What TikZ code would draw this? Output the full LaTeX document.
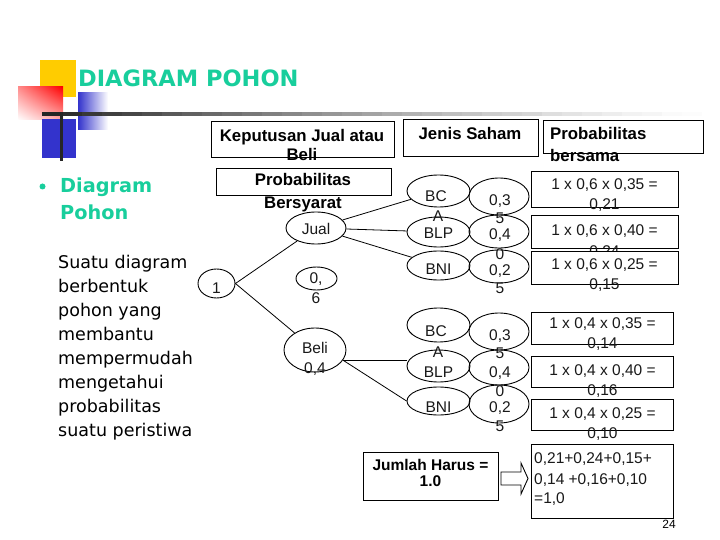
\documentclass[tikz,border=0pt]{standalone}
\usepackage{fontspec}
\setmainfont{Liberation Sans}
\newfontfamily\dejavu{DejaVu Sans}
\usetikzlibrary{shapes.geometric,shadings}
\definecolor{teal1}{RGB}{24,206,156}
\definecolor{yel1}{RGB}{255,204,0}
\definecolor{blu1}{RGB}{51,51,204}
\newcommand\seg[3]{\fill[black!#3] (#1,112.5) rectangle (#2,116);}
\begin{document}
\begin{tikzpicture}[x=1pt,y=-1pt,
  tx/.style={inner sep=0, anchor=base, font=\fontsize{15.5}{18}\selectfont, text=black!90},
  hd/.style={inner sep=0, anchor=base, font=\bfseries\fontsize{16.8}{19}\selectfont},
  ell/.style={draw, ellipse, inner sep=0, line width=0.9pt},
  box/.style={draw, fill=white, inner sep=0, line width=0.9pt, anchor=north west},
  body/.style={inner sep=0, anchor=base west, font=\dejavu\fontsize{17.5}{20}\selectfont},
  conn/.style={line width=0.8pt}]
\useasboundingbox (0,0) rectangle (720,540);
\fill[white] (0,0) rectangle (720,540);
% decoration
\fill[yel1] (40,60) rectangle (76,97);
\shade[upper left=red!45, upper right=red, lower left=white, lower right=red!35] (18,87) rectangle (63,120);
\shade[left color=blu1, right color=white] (78,93) rectangle (108,130);
\seg{42}{62.5}{85}\seg{62}{82.5}{82}\seg{82}{102.5}{78}\seg{102}{122.5}{75}
\seg{122}{142.5}{72}\seg{142}{162.5}{69}\seg{162}{182.5}{65}\seg{182}{202.5}{62}
\seg{202}{222.5}{59}\seg{222}{242.5}{56}\seg{242}{262.5}{53}\seg{262}{282.5}{50}
\seg{282}{302.5}{47}\seg{302}{322.5}{44}\seg{322}{342.5}{41}\seg{342}{362.5}{39}
\seg{362}{382.5}{36}\seg{382}{402.5}{33}\seg{402}{422.5}{30}\seg{422}{442.5}{28}
\seg{442}{462.5}{25}\seg{462}{482.5}{23}\seg{482}{502.5}{20}\seg{502}{522.5}{18}
\seg{522}{542.5}{16}\seg{542}{562.5}{13}\seg{562}{582.5}{11}\seg{582}{602.5}{9}
\seg{602}{622.5}{7}\seg{622}{642.5}{5}\seg{642}{662.5}{4}\seg{662}{682.5}{2}
\seg{682}{702}{1}
\fill[blu1] (42,119) rectangle (76,158);
\fill[black!85] (59.5,112) rectangle (62.5,161);
% title
\node[inner sep=0, anchor=base west, text=teal1, font=\dejavu\bfseries\fontsize{22.5}{26}\selectfont] (title) at (78,87) {DIAGRAM POHON};
% bullet
\fill[teal1] (42.5,186.5) circle (3);
\node[inner sep=0, anchor=base west, text=teal1, font=\dejavu\bfseries\fontsize{19.3}{22}\selectfont] (bh1) at (60,193) {Diagram};
\node[inner sep=0, anchor=base west, text=teal1, font=\dejavu\bfseries\fontsize{19.3}{22}\selectfont] (bh2) at (60,220) {Pohon};
\node[body] (l1) at (58,268) {Suatu diagram};
\node[body] (l2) at (58,292) {berbentuk};
\node[body] (l3) at (58,316) {pohon yang};
\node[body] (l4) at (58,340) {membantu};
\node[body] (l5) at (58,364) {mempermudah};
\node[body] (l6) at (58,388) {mengetahui};
\node[body] (l7) at (58,412) {probabilitas};
\node[body] (l8) at (58,436) {suatu peristiwa};
% header boxes
\node[box, minimum width=183pt, minimum height=36pt] (kb) at (211,121) {};
\node[hd] (kbt1) at (302,142) {Keputusan Jual atau};
\node[hd] (kbt2) at (302,161) {Beli};
\node[box, minimum width=175pt, minimum height=27pt] (pb) at (216,168) {};
\node[hd] (pbt1) at (303,186) {Probabilitas};
\node[hd] (pbt2) at (303,208) {Bersyarat};
\node[box, minimum width=135pt, minimum height=37pt] (js) at (403,119) {};
\node[hd] (jst) at (470,140) {Jenis Saham};
\node[box, minimum width=160pt, minimum height=33pt] (pbs) at (543,120) {};
\node[hd, anchor=base west] (pbst1) at (550,140) {Probabilitas};
\node[hd, anchor=base west] (pbst2) at (550,162) {bersama};
% tree ellipses
\node[ell, minimum width=37pt, minimum height=29pt] (n1) at (216.5,283.5) {};
\node[ell, minimum width=60pt, minimum height=32pt] (jual) at (316,228) {};
\node[ell, minimum width=41pt, minimum height=23pt] (p06) at (316.5,278.5) {};
\node[ell, minimum width=62pt, minimum height=44pt] (beli) at (315,350) {};
\node[ell, minimum width=63pt, minimum height=32pt] (bca1) at (438.5,191) {};
\node[ell, minimum width=63pt, minimum height=30pt] (blp1) at (438.5,232) {};
\node[ell, minimum width=63pt, minimum height=29pt] (bni1) at (438.5,265.5) {};
\node[ell, minimum width=60pt, minimum height=37pt] (q1) at (499,196.5) {};
\node[ell, minimum width=60pt, minimum height=33pt] (q2) at (499,231.5) {};
\node[ell, minimum width=60pt, minimum height=33pt] (q3) at (499,266.5) {};
\node[ell, minimum width=63pt, minimum height=34pt] (bca2) at (438.5,325) {};
\node[ell, minimum width=63pt, minimum height=32pt] (blp2) at (438.5,366) {};
\node[ell, minimum width=63pt, minimum height=28pt] (bni2) at (438.5,401) {};
\node[ell, minimum width=60pt, minimum height=37pt] (q4) at (499,331.5) {};
\node[ell, minimum width=60pt, minimum height=35pt] (q5) at (499,367.5) {};
\node[ell, minimum width=60pt, minimum height=38pt] (q6) at (499,404) {};
% connectors
\draw[conn] (n1.east) -- (jual);
\draw[conn] (n1.east) -- (beli);
\draw[conn] (jual) -- (bca1);
\draw[conn] (jual) -- (blp1);
\draw[conn] (jual) -- (bni1);
\draw[conn] (beli.-20) -- (beli.-20 -| blp2.west);
\draw[conn] (beli.-20) -- (bni2.west);
% ellipse texts
\node[tx] (n1t) at (216.5,293) {1};
\node[tx] (jualt) at (316,235) {Jual};
\node[tx] (p06a) at (316,283) {0,};
\node[tx] (p06b) at (316,303) {6};
\node[tx] (belia) at (315,353) {Beli};
\node[tx] (belib) at (315,373) {0,4};
\node[tx] (bca1a) at (436,202) {BC};
\node[tx] (bca1b) at (438,222) {A};
\node[tx] (blp1t) at (438.5,238) {BLP};
\node[tx] (bni1t) at (438.5,274) {BNI};
\node[tx] (q1a) at (500,206) {0,3};
\node[tx] (q1b) at (500,224) {5};
\node[tx] (q2a) at (500,240) {0,4};
\node[tx] (q2b) at (500,259) {0};
\node[tx] (q3a) at (500,275) {0,2};
\node[tx] (q3b) at (500,293) {5};
\node[tx] (bca2a) at (436,336) {BC};
\node[tx] (bca2b) at (438,357) {A};
\node[tx] (blp2t) at (438.5,377) {BLP};
\node[tx] (bni2t) at (438.5,412) {BNI};
\node[tx] (q4a) at (500,340) {0,3};
\node[tx] (q4b) at (500,358) {5};
\node[tx] (q5a) at (500,377) {0,4};
\node[tx] (q5b) at (500,396) {0};
\node[tx] (q6a) at (500,412) {0,2};
\node[tx] (q6b) at (500,431) {5};
% probability boxes
\node[box, minimum width=147pt, minimum height=36pt] (b1) at (531,171) {};
\node[tx] (b1a) at (604.5,190) {1 x 0,6 x 0,35 =};
\node[tx] (b1b) at (604.5,210) {0,21};
\node[box, minimum width=147pt, minimum height=33pt] (b2) at (531,215) {};
\node[tx] (b2a) at (604.5,236) {1 x 0,6 x 0,40 =};
\node[tx] (b2b) at (604.5,256) {0,24};
\node[box, minimum width=147pt, minimum height=33pt] (b3) at (531,251) {};
\node[tx] (b3a) at (604.5,269) {1 x 0,6 x 0,25 =};
\node[tx] (b3b) at (604.5,289) {0,15};
\node[box, minimum width=142pt, minimum height=32pt] (b4) at (531,312) {};
\node[tx] (b4a) at (602.5,328) {1 x 0,4 x 0,35 =};
\node[tx] (b4b) at (602.5,348) {0,14};
\node[box, minimum width=142pt, minimum height=31pt] (b5) at (531,356) {};
\node[tx] (b5a) at (602.5,375) {1 x 0,4 x 0,40 =};
\node[tx] (b5b) at (602.5,395) {0,16};
\node[box, minimum width=142pt, minimum height=31pt] (b6) at (531,399) {};
\node[tx] (b6a) at (602.5,418) {1 x 0,4 x 0,25 =};
\node[tx] (b6b) at (602.5,438) {0,10};
\node[box, minimum width=142pt, minimum height=74pt] (b7) at (531,444) {};
\node[tx, anchor=base west] (b7a) at (534,463) {0,21+0,24+0,15+};
\node[tx, anchor=base west] (b7b) at (534,484) {0,14 +0,16+0,10};
\node[tx, anchor=base west] (b7c) at (534,503) {=1,0};
% Jumlah box and arrow
\node[box, minimum width=135pt, minimum height=48pt] (jh) at (363,452) {};
\node[inner sep=0, anchor=base, font=\bfseries\fontsize{15.5}{18}\selectfont] (jht1) at (430.5,470) {Jumlah Harus =};
\node[inner sep=0, anchor=base, font=\bfseries\fontsize{15.5}{18}\selectfont] (jht2) at (430.5,486) {1.0};
\draw[line width=0.9pt, fill=white] (501,472) -- (521,472) -- (521,463) -- (528,478.5) -- (521,494) -- (521,485) -- (501,485) -- cycle;
% page number
\node[inner sep=0, anchor=base, font=\fontsize{12}{14}\selectfont] (pg) at (669,528) {24};
\end{tikzpicture}
\end{document}
